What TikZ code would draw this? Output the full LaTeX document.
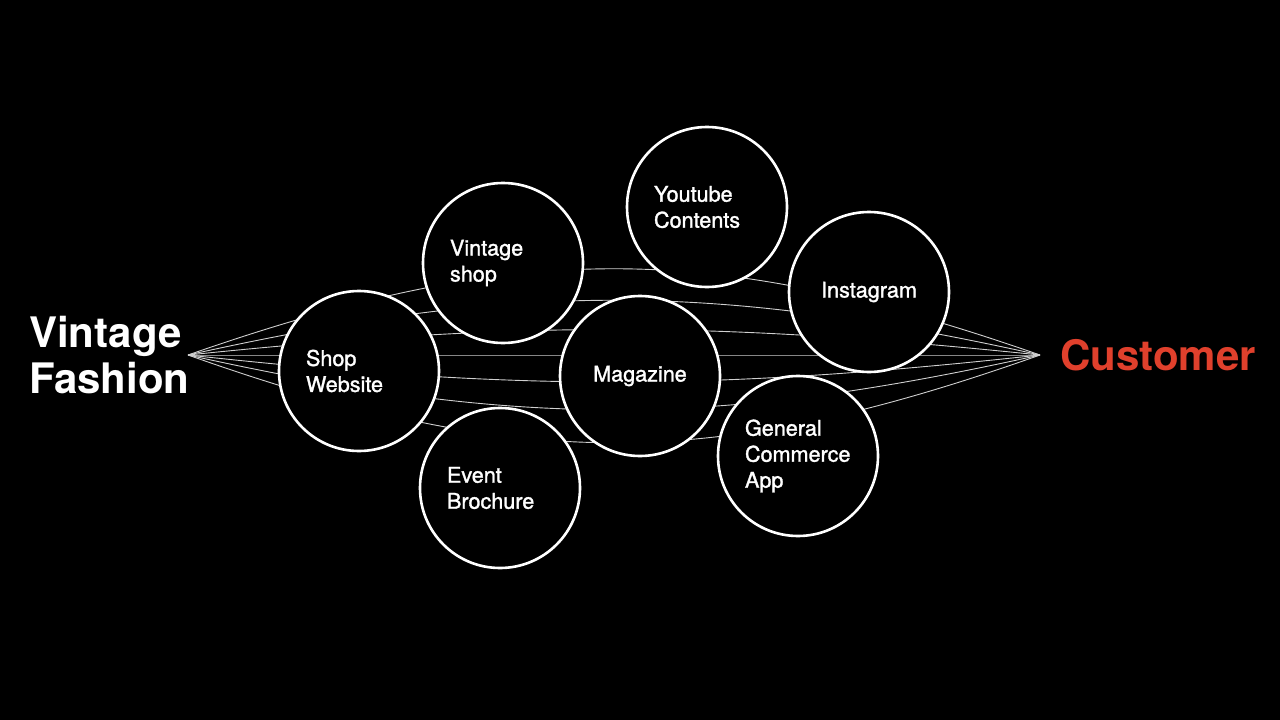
\documentclass[tikz,border=0pt]{standalone}
\usepackage{fontspec}
\setmainfont{TeX Gyre Heros}
\newfontfamily\medfont[FakeBold=1.4]{TeX Gyre Heros}
\definecolor{custred}{HTML}{E0402C}
\definecolor{linegray}{HTML}{CFCFCF}
\tikzset{
  curve/.style={draw=linegray, line width=0.9pt},
  bub/.style={circle, draw=white, fill=black, line width=2.6pt, minimum size=160pt, inner sep=0pt,
    text=white, font=\medfont\fontsize{21.6}{26}\selectfont},
  bubl/.style={bub, text width=106pt, align=left},
  bubc/.style={bub, align=center},
  title/.style={font=\bfseries\fontsize{42}{46}\selectfont, inner sep=0pt, align=left}
}
\begin{document}
\begin{tikzpicture}[x=1pt,y=-1pt]
\fill[black] (0,0) rectangle (1280,720);
\useasboundingbox (0,0) rectangle (1280,720);
\coordinate (L) at (188,355);
\coordinate (R) at (1040,355);
\foreach \d in {-115,-73,-34,0,36,73,117}
  \draw[curve] (L) .. controls +(330,\d) and +(-330,\d) .. (R);
\node[bubl] (shop) at (359,371) {Shop\\Website};
\node[bubl] (vshop) at (503,263) {Vintage\\shop};
\node[bubl] (yt) at (707,207) {Youtube\\Contents};
\node[bubc] (insta) at (869,292) {Instagram};
\node[bubc] (mag) at (640,376) {Magazine};
\node[bubl] (event) at (500,488) {Event\\Brochure};
\node[bubl] (gca) at (798,456) {General\\Commerce\\App};
\node[title, text=white, anchor=west] (vf) at (29,355) {Vintage\\Fashion};
\node[title, text=custred, anchor=west] (cust) at (1060,355) {Customer};
\end{tikzpicture}
\end{document}
